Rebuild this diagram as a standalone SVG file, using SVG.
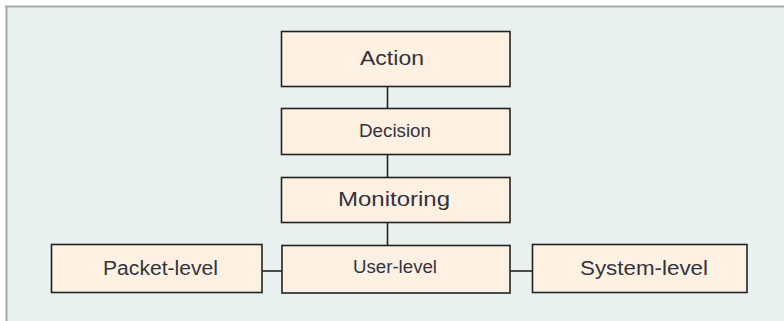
<svg xmlns="http://www.w3.org/2000/svg" width="784" height="321" viewBox="0 0 784 321">
<style>
.box{fill:#fef1e1;stroke:#222;stroke-width:1.6}
.t{font-family:"Liberation Sans",Arial,sans-serif;font-size:21px;fill:#33333f;text-anchor:middle}
.m{font-size:20px}
.s{font-size:18px}
.c{stroke:#222;stroke-width:1.6;fill:none}
</style>
<rect x="0" y="0" width="784" height="321" fill="#ffffff"/>
<rect x="6" y="6" width="778" height="315" fill="#e8f1ef"/>
<line x1="5" y1="6.5" x2="784" y2="6.5" stroke="#a8a8a8" stroke-width="2"/>
<line x1="6.5" y1="6" x2="6.5" y2="321" stroke="#a8a8a8" stroke-width="2"/>
<g id="connectors">
<line class="c" x1="387.5" y1="86" x2="387.5" y2="108"/>
<line class="c" x1="387.5" y1="154" x2="387.5" y2="177"/>
<line class="c" x1="387.5" y1="222" x2="387.5" y2="245"/>
<line class="c" x1="262" y1="271" x2="282" y2="271"/>
<line class="c" x1="510" y1="271" x2="532" y2="271"/>
</g>
<g id="action"><rect class="box" x="281.5" y="31.5" width="228.5" height="55"/><text class="t" x="392" y="65" textLength="64" lengthAdjust="spacingAndGlyphs">Action</text></g>
<g id="decision"><rect class="box" x="281.5" y="108.5" width="228.5" height="46"/><text class="t s" x="395" y="137" textLength="72" lengthAdjust="spacingAndGlyphs">Decision</text></g>
<g id="monitoring"><rect class="box" x="281.5" y="177.5" width="228.5" height="45"/><text class="t" x="394" y="206" textLength="112" lengthAdjust="spacingAndGlyphs">Monitoring</text></g>
<g id="user-level"><rect class="box" x="282" y="245.5" width="228" height="47.5"/><text class="t s" x="395" y="273" textLength="84" lengthAdjust="spacingAndGlyphs">User-level</text></g>
<g id="packet-level"><rect class="box" x="51.5" y="244.5" width="210.5" height="48"/><text class="t m" x="160.5" y="275" textLength="115" lengthAdjust="spacingAndGlyphs">Packet-level</text></g>
<g id="system-level"><rect class="box" x="532.5" y="244.5" width="214.5" height="48"/><text class="t m" x="644" y="275" textLength="128" lengthAdjust="spacingAndGlyphs">System-level</text></g>
</svg>
